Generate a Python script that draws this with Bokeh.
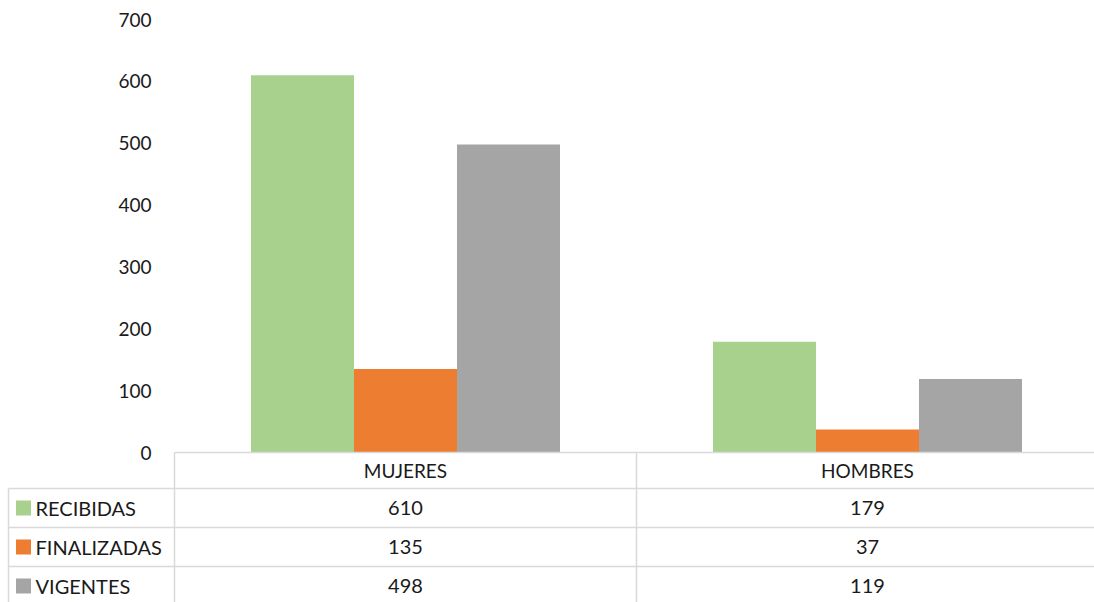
from bokeh.plotting import figure
from bokeh.models import Range1d, ColumnDataSource
from bokeh.core.properties import value
from bokeh.embed import file_html
from bokeh.resources import INLINE

# ---- data ----
categories = ["MUJERES", "HOMBRES"]
series = ["RECIBIDAS", "FINALIZADAS", "VIGENTES"]
recibidas = [610, 179]
finalizadas = [135, 37]
vigentes = [498, 119]
y_ticks = [0, 100, 200, 300, 400, 500, 600, 700]

colors = ["#A9D18E", "#ED7D31", "#A5A5A5"]
values_by_series = [recibidas, finalizadas, vigentes]

FONT = value("Lato")
TXT = "#1a1a1a"
GRIDC = "#d9d9d9"

# layout (pixel based) -> data units
W, H = 1094, 602
px_x = 462.0            # pixels per category
px_y = 433.0 / 700.0    # pixels per value unit
left_col_px = 174.0     # width of the legend column in table
x0 = -left_col_px / px_x
x1 = x0 + W / px_x
y_top = 700 + 19 / px_y
y_bot = y_top - H / px_y

p = figure(width=W, height=H, x_range=Range1d(x0, x1), y_range=Range1d(y_bot, y_top),
           output_backend="svg", toolbar_location=None, min_border=0,
           outline_line_color=None, background_fill_color="white")
p.xaxis.visible = False
p.yaxis.visible = False
p.grid.visible = False

# ---- bars ----
bw = 103.0 / px_x
offsets = [-bw, 0.0, bw]
for s, vals, col, off in zip(series, values_by_series, colors, offsets):
    src = ColumnDataSource(dict(x=[i + 0.5 + off for i in range(len(categories))], top=vals))
    p.vbar(x="x", top="top", bottom=0, width=bw, source=src, fill_color=col, line_color=None)

# ---- y tick labels ----
p.text(x=[-23 / px_x] * len(y_ticks), y=y_ticks, text=[str(t) for t in y_ticks],
       text_font=FONT, text_font_size="19px", text_color=TXT,
       text_align="right", text_baseline="middle")

# ---- data table ----
header_h = 36 / px_y
row_h = 39 / px_y
row_bounds = [-header_h - k * row_h for k in range(len(series) + 1)]
lw = 1.5
left_line_x = x0 + 8 / px_x
# top border of table (category columns only)
p.segment(x0=[0], y0=[0], x1=[x1], y1=[0], line_color=GRIDC, line_width=lw)
# horizontal row lines
hb = row_bounds[:-1]
p.segment(x0=[left_line_x] * len(hb), y0=hb, x1=[x1] * len(hb), y1=hb,
          line_color=GRIDC, line_width=lw)
# vertical lines
vx = [float(i) for i in range(len(categories))]
p.segment(x0=vx, y0=[0] * len(vx), x1=vx, y1=[y_bot] * len(vx), line_color=GRIDC, line_width=lw)
p.segment(x0=[left_line_x], y0=[row_bounds[0]], x1=[left_line_x], y1=[y_bot],
          line_color=GRIDC, line_width=lw)

# header labels
p.text(x=[i + 0.5 for i in range(len(categories))], y=[-header_h / 2] * len(categories),
       text=categories, text_font=FONT, text_font_size="19px", text_color=TXT,
       text_align="center", text_baseline="middle")

# row labels + swatches + values
row_centers = [(row_bounds[k] + row_bounds[k + 1]) / 2 for k in range(len(series))]
p.scatter(x=[x0 + 23 / px_x] * len(series), y=row_centers, marker="square", size=15,
          fill_color=colors, line_color=None)
p.text(x=[x0 + 35 / px_x] * len(series), y=row_centers, text=series,
       text_font=FONT, text_font_size="20px", text_color=TXT,
       text_align="left", text_baseline="middle")
for k, vals in enumerate(values_by_series):
    p.text(x=[i + 0.5 for i in range(len(categories))], y=[row_centers[k]] * len(categories),
           text=[str(v) for v in vals], text_font=FONT, text_font_size="20px",
           text_color=TXT, text_align="center", text_baseline="middle")

open("out.html", "w").write(file_html(p, INLINE))
